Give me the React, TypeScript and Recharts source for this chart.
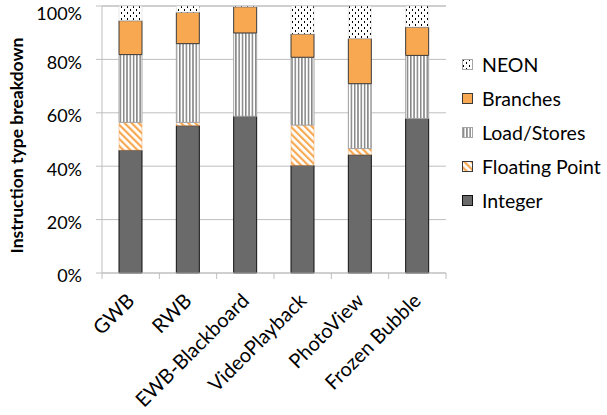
import React from "react";
import { BarChart, Bar, XAxis, YAxis, CartesianGrid, Legend } from "recharts";

const categories = ["GWB", "RWB", "EWB-Blackboard", "VideoPlayback", "PhotoView", "Frozen Bubble"];
const integer = [46.0, 55.2, 58.7, 40.3, 44.3, 57.9];
const floatingPoint = [10.4, 1.2, 0, 15.1, 2.3, 0];
const loadStores = [25.4, 29.5, 31.2, 25.4, 24.3, 23.6];
const branches = [12.7, 11.7, 9.8, 8.7, 16.9, 10.6];
const neon = [5.5, 2.4, 0.3, 10.5, 12.2, 7.9];
const yTicks = [0, 20, 40, 60, 80, 100];

const data = categories.map((name, i) => ({
  name,
  integer: integer[i],
  fp: floatingPoint[i],
  ls: loadStores[i],
  branches: branches[i],
  neon: neon[i],
}));

const FONT = "Lato, 'Open Sans', sans-serif";
const W = 607;
const H = 415;
const M = { top: 6, right: 161, bottom: 0, left: 0 };
const X_H = 142;
const Y_W = 102;
const BAND = (W - M.right - Y_W) / categories.length;

const legendItems = [
  { label: "NEON", fill: "url(#pNeon)", stroke: "#a6a6a6" },
  { label: "Branches", fill: "#f9a852", stroke: "#3a3a3a" },
  { label: "Load/Stores", fill: "url(#pLs)", stroke: "#a6a6a6" },
  { label: "Floating Point", fill: "url(#pFp)", stroke: "#3a3a3a" },
  { label: "Integer", fill: "#6a6a6a", stroke: "#111" },
];

function Patterns() {
  return (
    <svg width={0} height={0} style={{ position: "absolute" }}>
      <defs>
        <pattern id="pNeon" width={6} height={6} patternUnits="userSpaceOnUse">
          <rect width={6} height={6} fill="#fff" />
          <rect x={1} y={0} width={1} height={2} fill="#000" />
          <rect x={4} y={3} width={1} height={2} fill="#000" />
        </pattern>
        <pattern id="pLs" width={3.3} height={3} patternUnits="userSpaceOnUse">
          <rect width={3.3} height={3} fill="#fff" />
          <rect x={1} y={0} width={1.2} height={3} fill="#666" />
        </pattern>
        <pattern id="pFp" width={5} height={5} patternUnits="userSpaceOnUse" patternTransform="rotate(-45)">
          <rect width={5} height={5} fill="#fff" />
          <rect x={0} y={0} width={2.2} height={5} fill="#f9a852" />
        </pattern>
      </defs>
    </svg>
  );
}

function XTick(props: any) {
  const { x, y, payload } = props;
  const half = BAND / 2;
  const ax = x + 5;
  const ay = y + 21;
  return (
    <g>
      {payload.index === 0 && (
        <line x1={x - half} y1={y - 8} x2={x - half} y2={y - 2} stroke="#bfbfbf" />
      )}
      <line x1={x + half} y1={y - 8} x2={x + half} y2={y - 2} stroke="#bfbfbf" />
      <text
        x={ax}
        y={ay}
        transform={`rotate(-45, ${ax}, ${ay})`}
        textAnchor="end"
        fontSize={20}
        fontFamily={FONT}
        fill="#000"
      >
        {payload.value}
      </text>
    </g>
  );
}

function LegendContent() {
  return (
    <div style={{ fontFamily: FONT, fontSize: 19.5, color: "#000" }}>
      {legendItems.map((it) => (
        <div key={it.label} style={{ display: "flex", alignItems: "center", height: 34.2 }}>
          <svg width={11} height={11} style={{ marginRight: 9 }}>
            <rect x={0.5} y={0.5} width={10} height={10} fill={it.fill} stroke={it.stroke} />
          </svg>
          <span>{it.label}</span>
        </div>
      ))}
    </div>
  );
}

export default function App() {
  return (
    <div style={{ position: "absolute", left: 0, top: 0, width: W, height: H, background: "#fff" }}>
      <Patterns />
      <BarChart width={W} height={H} data={data} margin={M} barSize={23}>
        <CartesianGrid horizontal vertical={false} stroke="#bfbfbf" />
        <XAxis
          dataKey="name"
          interval={0}
          axisLine={{ stroke: "#bfbfbf" }}
          tickLine={false}
          tick={<XTick />}
          height={X_H}
        />
        <YAxis
          width={Y_W}
          domain={[0, 100]}
          ticks={yTicks}
          tickFormatter={(v) => `${v}%`}
          axisLine={{ stroke: "#bfbfbf" }}
          tickLine={{ stroke: "#bfbfbf" }}
          tickSize={6}
          tick={{ fontSize: 18, fontFamily: FONT, fill: "#000", dy: 3 }}
          tickMargin={14}
          label={{
            value: "Instruction type breakdown",
            angle: -90,
            position: "insideLeft",
            dx: 12,
            dy: 6,
            style: { fontSize: 17.5, fontWeight: 700, fontFamily: FONT, fill: "#000", textAnchor: "middle" },
          }}
        />
        <Legend
          layout="vertical"
          align="center"
          verticalAlign="middle"
          content={<LegendContent />}
          wrapperStyle={{ position: "absolute", left: 462, top: 47, width: 145 }}
        />
        <Bar dataKey="integer" stackId="a" fill="#6a6a6a" stroke="#111" isAnimationActive={false} />
        <Bar dataKey="fp" stackId="a" fill="url(#pFp)" stroke="#e8a060" strokeWidth={0.5} isAnimationActive={false} />
        <Bar dataKey="ls" stackId="a" fill="url(#pLs)" stroke="#a6a6a6" isAnimationActive={false} />
        <Bar dataKey="branches" stackId="a" fill="#f9a852" stroke="#3a3a3a" isAnimationActive={false} />
        <Bar dataKey="neon" stackId="a" fill="url(#pNeon)" stroke="#d0d0d0" strokeWidth={0.5} isAnimationActive={false} />
      </BarChart>
    </div>
  );
}
